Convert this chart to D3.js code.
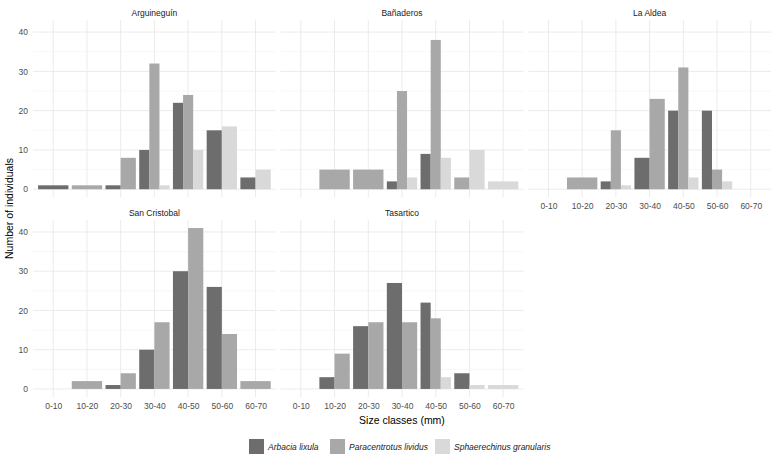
<!DOCTYPE html>
<html>
<head>
<meta charset="utf-8">
<script src="https://cdn.jsdelivr.net/npm/d3@7/dist/d3.min.js"></script>
<style>
  body { margin: 0; background: #fff; }
  svg { display: block; font-family: "Liberation Sans", Arial, sans-serif; }
</style>
</head>
<body>
<svg id="chart" width="775" height="459"></svg>
<script>
// ---- Data ----
const sites = ["Arguineguín", "Bañaderos", "La Aldea", "San Cristobal", "Tasartico"];
const sizeClasses = ["0-10", "10-20", "20-30", "30-40", "40-50", "50-60", "60-70"];
const species = ["Arbacia lixula", "Paracentrotus lividus", "Sphaerechinus granularis"];
const yTicks = [0, 10, 20, 30, 40];

// counts per size class (null = class absent for that species)
const arbacia = {
  "Arguineguín":   [1, null, 1, 10, 22, 15, 3],
  "Bañaderos":     [null, null, null, 2, 9, null, null],
  "La Aldea":      [null, null, 2, 8, 20, 20, null],
  "San Cristobal": [null, null, 1, 10, 30, 26, null],
  "Tasartico":     [null, 3, 16, 27, 22, 4, null]
};
const paracentrotus = {
  "Arguineguín":   [null, 1, 8, 32, 24, null, null],
  "Bañaderos":     [null, 5, 5, 25, 38, 3, null],
  "La Aldea":      [null, 3, 15, 23, 31, 5, null],
  "San Cristobal": [null, 2, 4, 17, 41, 14, 2],
  "Tasartico":     [null, 9, 17, 17, 18, null, null]
};
const sphaerechinus = {
  "Arguineguín":   [null, null, null, 1, 10, 16, 5],
  "Bañaderos":     [null, null, null, 3, 8, 10, 2],
  "La Aldea":      [null, null, 1, null, 3, 2, null],
  "San Cristobal": [null, null, null, null, null, null, null],
  "Tasartico":     [null, null, null, null, 3, 1, 1]
};
const seriesBySpecies = [arbacia, paracentrotus, sphaerechinus];
const colors = ["#6d6d6d", "#a8a8a8", "#d9d9d9"];

// ---- Layout ----
const svg = d3.select("#chart");
const panelW = 242.8, gapX = 4.8, x0 = 33;
const rows = [{ top: 20.1, bottom: 197.3 }, { top: 220, bottom: 397 }];
const yMax = d3.max(seriesBySpecies.flatMap(s => Object.values(s).flat().filter(v => v != null)));
const yDomain = [-0.05 * yMax, yMax * 1.05];

const x = d3.scalePoint().domain(sizeClasses).range([0, panelW]).padding(0.6);
const step = x.step();
const color = d3.scaleOrdinal().domain(species).range(colors);

sites.forEach((site, i) => {
  const row = Math.floor(i / 3), col = i % 3;
  const left = x0 + col * (panelW + gapX);
  const r = rows[row];
  const y = d3.scaleLinear().domain(yDomain).range([r.bottom, r.top]);
  const g = svg.append("g").attr("transform", `translate(${left},0)`);

  // minor grid
  const minor = d3.range(5, yMax * 1.05, 10);
  g.selectAll(".minor").data(minor).join("line")
    .attr("x1", 0).attr("x2", panelW)
    .attr("y1", d => y(d)).attr("y2", d => y(d))
    .attr("stroke", "#f2f2f2").attr("stroke-width", 0.6);
  // major grid
  g.selectAll(".majorY").data(yTicks).join("line")
    .attr("x1", 0).attr("x2", panelW)
    .attr("y1", d => y(d)).attr("y2", d => y(d))
    .attr("stroke", "#ebebeb").attr("stroke-width", 1);
  g.selectAll(".majorX").data(sizeClasses).join("line")
    .attr("x1", d => x(d)).attr("x2", d => x(d))
    .attr("y1", r.top).attr("y2", r.bottom)
    .attr("stroke", "#ebebeb").attr("stroke-width", 1);

  // bars with dodge
  const bars = [];
  sizeClasses.forEach((c, ci) => {
    const present = species.map((sp, si) => ({ sp, v: seriesBySpecies[si][site][ci] }))
      .filter(d => d.v != null);
    const n = present.length;
    const bw = 0.9 * step / n;
    present.forEach((d, k) => {
      bars.push({ c, sp: d.sp, v: d.v, x: x(c) - 0.45 * step + k * bw, w: bw });
    });
  });
  g.selectAll(".bar").data(bars).join("rect")
    .attr("x", d => d.x).attr("width", d => d.w)
    .attr("y", d => y(d.v)).attr("height", d => y(0) - y(d.v))
    .attr("fill", d => color(d.sp));

  // strip title
  svg.append("text").attr("x", left + panelW / 2).attr("y", r.top - 4)
    .attr("text-anchor", "middle").attr("font-size", 8.5).attr("fill", "#1a1a1a")
    .text(site);

  // y axis labels (leftmost column)
  if (col === 0) {
    const ya = d3.axisLeft(y).tickValues(yTicks).tickSize(0).tickPadding(5);
    const ag = svg.append("g").attr("transform", `translate(${left},0)`).call(ya);
    ag.select(".domain").remove();
    ag.selectAll("text").attr("font-size", 8.5).attr("fill", "#4d4d4d")
      .attr("font-family", "Liberation Sans, Arial, sans-serif");
  }
  // x axis labels (bottom of each column)
  if (row === 1 || i === 2) {
    const xa = d3.axisBottom(x).tickSize(0).tickPadding(6);
    const ag = svg.append("g").attr("transform", `translate(${left},${r.bottom})`).call(xa);
    ag.select(".domain").remove();
    ag.selectAll("text").attr("font-size", 8.5).attr("fill", "#4d4d4d")
      .attr("font-family", "Liberation Sans, Arial, sans-serif");
  }
});

// axis titles
const plotLeft = x0, plotRight = x0 + 3 * panelW + 2 * gapX;
svg.append("text").attr("x", (plotLeft + plotRight) / 2).attr("y", 424)
  .attr("text-anchor", "middle").attr("font-size", 10.5).attr("fill", "#000")
  .text("Size classes (mm)");
svg.append("text").attr("transform", `translate(13,${(20 + 397) / 2}) rotate(-90)`)
  .attr("text-anchor", "middle").attr("font-size", 10.5).attr("fill", "#000")
  .text("Number of individuals");

// legend
const legendItems = [
  { sp: species[0], kx: 249 },
  { sp: species[1], kx: 330 },
  { sp: species[2], kx: 435 }
];
const lg = svg.append("g");
legendItems.forEach(d => {
  lg.append("rect").attr("x", d.kx).attr("y", 439).attr("width", 15).attr("height", 15)
    .attr("fill", color(d.sp));
  lg.append("text").attr("x", d.kx + 19).attr("y", 449.5)
    .attr("font-size", 8.5).attr("font-style", "italic").attr("fill", "#1a1a1a")
    .text(d.sp);
});
</script>
</body>
</html>
